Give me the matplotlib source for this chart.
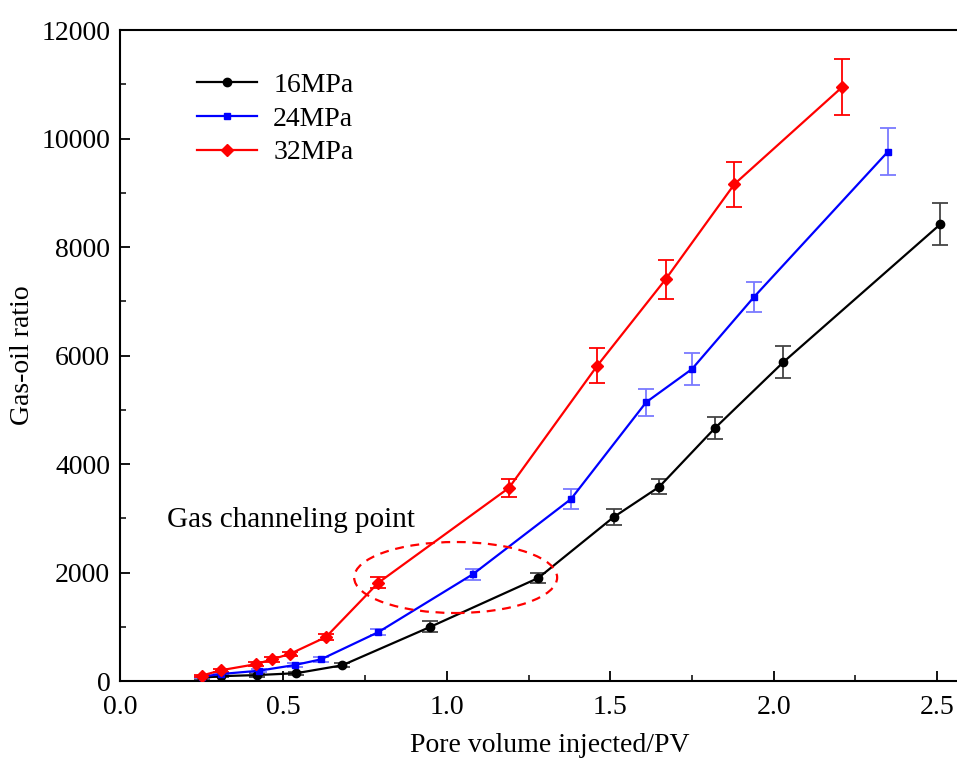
#Gas-oil ratio vs pore volume injected
import numpy as np
import matplotlib
matplotlib.use('Agg')
import matplotlib.pyplot as plt
from matplotlib.patches import Ellipse

plt.rcParams['font.family'] = ['Liberation Serif', 'DejaVu Serif']

#data
x16 = [0.25, 0.31, 0.42, 0.54, 0.68, 0.95, 1.28, 1.51, 1.65, 1.82, 2.03, 2.51]
y16 = [60, 90, 110, 145, 290, 1000, 1900, 3020, 3580, 4660, 5880, 8420]
e16 = [20, 20, 30, 30, 40, 100, 100, 150, 140, 200, 290, 385]

x24 = [0.25, 0.31, 0.425, 0.535, 0.615, 0.79, 1.08, 1.38, 1.61, 1.75, 1.94, 2.35]
y24 = [80, 130, 190, 295, 400, 900, 1970, 3355, 5140, 5750, 7080, 9760]
e24 = [20, 20, 30, 30, 40, 50, 100, 180, 250, 290, 280, 440]

x32 = [0.25, 0.31, 0.415, 0.465, 0.52, 0.63, 0.79, 1.19, 1.46, 1.67, 1.88, 2.21]
y32 = [100, 200, 310, 400, 500, 810, 1810, 3560, 5810, 7410, 9160, 10950]
e32 = [20, 30, 40, 40, 40, 60, 100, 170, 325, 360, 415, 516]

labels = ['16MPa', '24MPa', '32MPa']

fig = plt.figure(figsize=(9.57, 7.6), dpi=100)
ax = fig.add_axes([0.1254, 0.1039, 1 - 0.1254, 0.8566])

#series: x, y, err, line colour, errbar colour, marker, size
series = [
    (x16, y16, e16, 'black', '#444444', 'o', 6),
    (x24, y24, e24, '#0000ff', '#7a7aff', 's', 5),
    (x32, y32, e32, '#ff0000', '#ff0000', 'D', 6),
]

for (x, y, e, c, ec, m, ms), lab in zip(series, labels):
    ax.errorbar(x, y, yerr=e, fmt='none', ecolor=ec, elinewidth=1.3,
                capsize=6, capthick=1.3, zorder=2)
    ax.plot(x, y, color=c, lw=1.6, marker=m, markersize=ms, label=lab, zorder=3)

#gas channeling ellipse and note
ell = Ellipse((1.027, 1908), 0.621, 1309, fill=False, ls=(0, (4, 3)),
              ec='#ff0000', lw=1.6, zorder=4)
ax.add_patch(ell)
ax.text(0.145, 2840, 'Gas channeling point', fontsize=21, va='baseline', ha='left')

ax.set_xlim(0, 2.561)
ax.set_ylim(0, 12000)
ax.set_xticks(np.arange(0, 2.51, 0.5))
ax.set_xticks(np.arange(0, 2.56, 0.25), minor=True)
ax.set_yticks(np.arange(0, 12001, 2000))
ax.set_yticks(np.arange(0, 12001, 1000), minor=True)
ax.xaxis.set_major_formatter(plt.FormatStrFormatter('%.1f'))

ax.tick_params(which='major', direction='in', length=7, width=1.3, labelsize=20)
ax.tick_params(axis='x', which='major', pad=10)
ax.tick_params(axis='y', which='major', pad=7)
ax.tick_params(which='minor', direction='in', length=4, width=1.1)
ax.tick_params(top=False, right=False, which='both')

for s in ['left', 'bottom', 'top']:
    ax.spines[s].set_linewidth(1.5)
ax.spines['right'].set_visible(False)

ax.set_xlabel('Pore volume injected/PV', fontsize=20)
ax.set_ylabel('Gas-oil ratio', fontsize=20)
ax.xaxis.set_label_coords(0.514, -0.08)
ax.yaxis.set_label_coords(-0.102, 0.5)

ax.legend(loc='upper left', bbox_to_anchor=(0.092, 0.935), frameon=False,
          fontsize=20, handlelength=2.16, handletextpad=0.58,
          labelspacing=0.3, borderpad=0, borderaxespad=0)

fig.savefig('out.png', dpi=100)
